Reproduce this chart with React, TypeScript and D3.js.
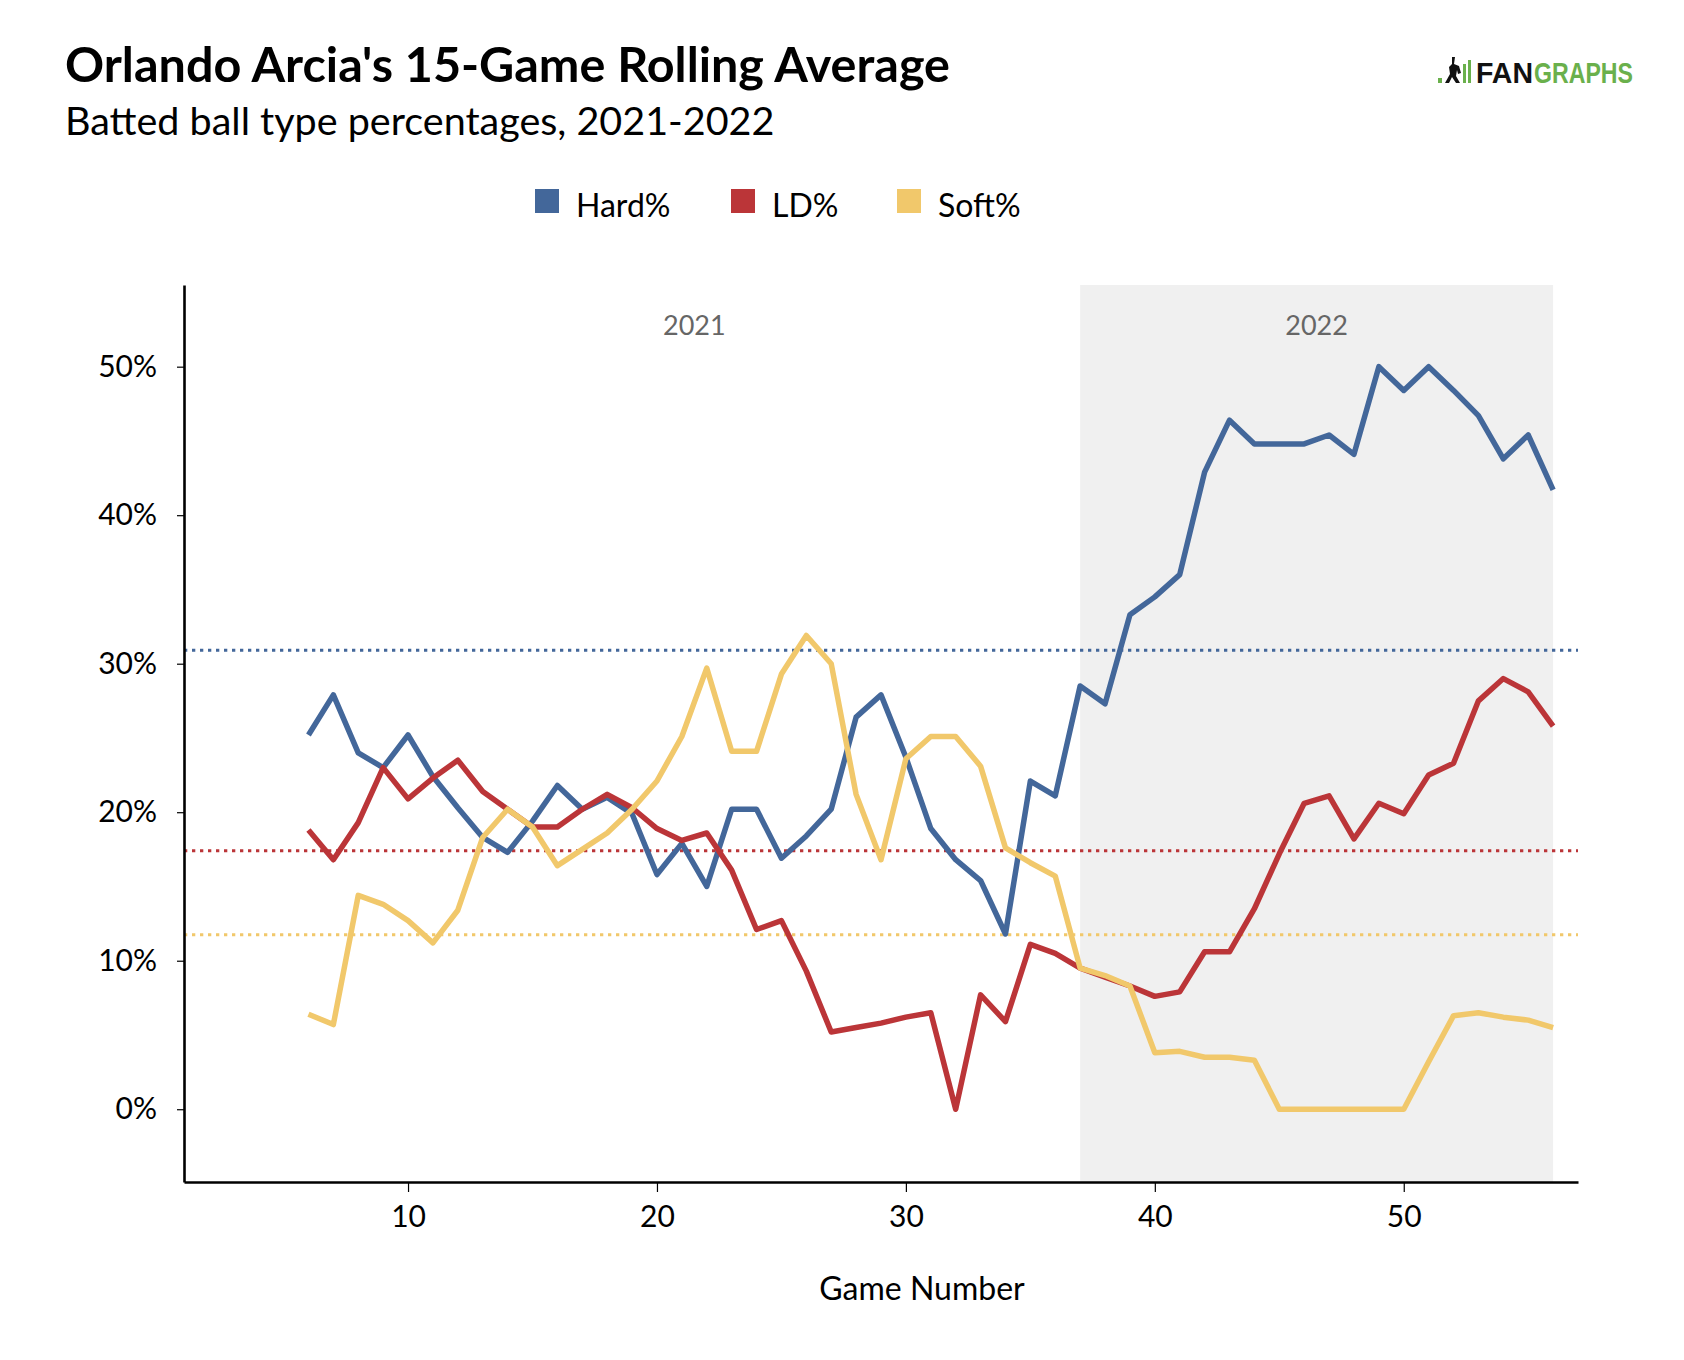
import { useRef, useEffect, useLayoutEffect } from "react";
import * as d3 from "d3";

const games = [6, 7, 8, 9, 10, 11, 12, 13, 14, 15, 16, 17, 18, 19, 20, 21, 22, 23, 24, 25, 26, 27, 28, 29, 30, 31, 32, 33, 34, 35, 36, 37, 38, 39, 40, 41, 42, 43, 44, 45, 46, 47, 48, 49, 50, 51, 52, 53, 54, 55, 56];

const hardPct = [25.2, 27.9, 24.0, 23.0, 25.2, 22.4, 20.3, 18.3, 17.3, 19.4, 21.8, 20.2, 21.0, 19.9, 15.8, 17.9, 15.0, 20.2, 20.2, 16.9, 18.4, 20.2, 26.4, 27.9, 23.7, 18.9, 16.8, 15.4, 11.8, 22.1, 21.1, 28.5, 27.3, 33.3, 34.5, 36.0, 42.9, 46.4, 44.8, 44.8, 44.8, 45.4, 44.1, 50.0, 48.4, 50.0, 48.4, 46.7, 43.8, 45.4, 41.7];
const ldPct = [18.8, 16.8, 19.3, 23.0, 20.9, 22.3, 23.5, 21.4, 20.2, 19.0, 19.0, 20.2, 21.2, 20.3, 18.9, 18.1, 18.6, 16.1, 12.1, 12.7, 9.3, 5.2, 5.5, 5.8, 6.2, 6.5, 0.0, 7.7, 5.9, 11.1, 10.5, 9.5, 8.9, 8.3, 7.6, 7.9, 10.6, 10.6, 13.5, 17.2, 20.6, 21.1, 18.2, 20.6, 19.9, 22.5, 23.3, 27.5, 29.0, 28.1, 25.8];
const softPct = [6.4, 5.7, 14.4, 13.8, 12.7, 11.2, 13.4, 18.3, 20.2, 19.0, 16.4, 17.5, 18.6, 20.2, 22.1, 25.1, 29.7, 24.1, 24.1, 29.3, 31.9, 30.0, 21.2, 16.8, 23.6, 25.1, 25.1, 23.1, 17.6, 16.6, 15.7, 9.5, 9.0, 8.3, 3.8, 3.9, 3.5, 3.5, 3.3, 0, 0, 0, 0, 0, 0, 3.2, 6.3, 6.5, 6.2, 6.0, 5.5];

// season averages (dotted lines)
const seriesNames = ["Hard%", "LD%", "Soft%"];
const seriesAverages = [30.9, 17.4, 11.75];
const seriesColours = ["#43679a", "#bb3538", "#f1c86b"];

// seasons: [label, first game, last game]
const seasons: [string, number, number][] = [["2021", 6, 37], ["2022", 37, 56]];

const yTicks = [0, 10, 20, 30, 40, 50];
const xTicks = [10, 20, 30, 40, 50];

const W = 1684;
const H = 1360;
const plot = { left: 184, right: 1578, top: 285, bottom: 1182 };
const FONT = "Lato, 'Open Sans', sans-serif";
const LOGO_GREEN = "#6ab04c";

function App() {
    const xAxisRef = useRef<SVGGElement>(null);
    const yAxisRef = useRef<SVGGElement>(null);

    const x = d3.scaleLinear().domain([1, 57]).range([plot.left, plot.right]);
    const y = d3.scaleLinear().domain([-4.9, 55.5]).range([plot.bottom, plot.top]);

    const series = [hardPct, ldPct, softPct];
    const line = d3.line<number>()
        .x((_, i) => x(games[i]))
        .y(d => y(d));

    useLayoutEffect(() => {
        document.body.style.margin = "0";
    }, []);

    useEffect(() => {
        const gx = d3.select(xAxisRef.current!);
        gx.call(d3.axisBottom(x).tickValues(xTicks).tickSize(10).tickSizeOuter(0).tickPadding(14));
        gx.select(".domain").attr("stroke-width", 2.6);
        gx.selectAll(".tick line").attr("stroke-width", 1.2);
        gx.selectAll("text").attr("font-size", 30).attr("font-family", FONT).attr("fill", "#000");

        const gy = d3.select(yAxisRef.current!);
        gy.call(d3.axisLeft(y).tickValues(yTicks).tickFormat(d => `${d}%`).tickSize(7).tickSizeOuter(0).tickPadding(20));
        gy.select(".domain").attr("stroke-width", 2.6);
        gy.selectAll(".tick line").attr("stroke-width", 1.2);
        gy.selectAll("text").attr("font-size", 30).attr("font-family", FONT).attr("fill", "#000");

        return () => {
            gx.selectAll("*").remove();
            gy.selectAll("*").remove();
        };
    }, []);

    return (
        <svg width={W} height={H} style={{ display: "block", background: "#fff" }} fontFamily={FONT}>
            {/* titles */}
            <text x={65} y={82} fontSize={48.5} fontWeight={700} fill="#000">Orlando Arcia's 15-Game Rolling Average</text>
            <text x={65} y={135} fontSize={39.5} fill="#000">Batted ball type percentages, 2021-2022</text>

            {/* fangraphs logo */}
            <g>
                <rect x={1438} y={78} width={4} height={5} fill={LOGO_GREEN} />
                <path d="M1452,57 L1455,57 L1454,64 L1459,66 L1461,73 L1458,74 L1457,70 L1456,76 L1460,83 L1456,83 L1452,77 L1449,83 L1445,83 L1450,74 L1449,67 L1452,64 Z" fill="#111" />
                <rect x={1463} y={64} width={3} height={19} fill={LOGO_GREEN} />
                <rect x={1468} y={60} width={3} height={23} fill={LOGO_GREEN} />
                <text x={1476} y={83} fontSize={30} fontWeight={700} fontFamily="'Liberation Sans', Arial, sans-serif" fill="#111" textLength={57} lengthAdjust="spacingAndGlyphs">FAN</text>
                <text x={1534} y={83} fontSize={30} fontWeight={700} fontFamily="'Liberation Sans', Arial, sans-serif" fill={LOGO_GREEN} textLength={99} lengthAdjust="spacingAndGlyphs">GRAPHS</text>
            </g>

            {/* legend */}
            {seriesNames.map((name, i) => {
                const lx = [535, 731, 897][i];
                return (
                    <g key={name}>
                        <rect x={lx} y={189} width={24} height={24} fill={seriesColours[i]} />
                        <text x={lx + 41} y={217} fontSize={32} fill="#000">{name}</text>
                    </g>
                );
            })}

            {/* 2022 shading */}
            <rect x={x(seasons[1][1])} y={plot.top} width={x(seasons[1][2]) - x(seasons[1][1])} height={plot.bottom - plot.top} fill="#f0f0f0" />

            {seasons.map(([label, a, b]) => (
                <text key={label} x={x((a + b) / 2)} y={335} textAnchor="middle" fontSize={27} fill="#666">{label}</text>
            ))}

            {/* average lines */}
            {seriesAverages.map((v, i) => (
                <line key={i} x1={plot.left} x2={plot.right} y1={y(v)} y2={y(v)} stroke={seriesColours[i]} strokeWidth={3} strokeDasharray="3.3 4.7" />
            ))}

            {/* rolling lines */}
            {series.map((s, i) => (
                <path key={i} d={line(s) ?? ""} fill="none" stroke={seriesColours[i]} strokeWidth={5.5} strokeLinejoin="round" />
            ))}

            <g ref={xAxisRef} transform={`translate(0,${plot.bottom})`} />
            <g ref={yAxisRef} transform={`translate(${plot.left},0)`} />

            <text x={922} y={1300} textAnchor="middle" fontSize={32} fill="#000">Game Number</text>
        </svg>
    );
}

export default App;
